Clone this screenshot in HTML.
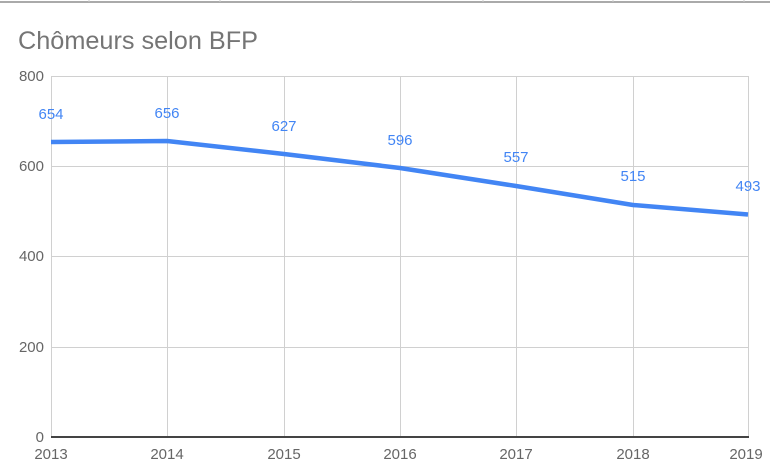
<!DOCTYPE html>
<html><head><meta charset="utf-8"><style>
body{margin:0;background:#fff;}
svg{display:block;font-family:"Liberation Sans",sans-serif;}
</style></head><body>
<svg width="770" height="466" viewBox="0 0 770 466">
<rect width="770" height="466" fill="#fff"/>
<line x1="0" y1="2" x2="770" y2="2" stroke="#aaa" stroke-width="2"/>
<g stroke="#ccc" stroke-width="1">
<line x1="89" y1="0" x2="89" y2="2"/><line x1="220" y1="0" x2="220" y2="2"/><line x1="351" y1="0" x2="351" y2="2"/><line x1="483" y1="0" x2="483" y2="2"/><line x1="613" y1="0" x2="613" y2="2"/><line x1="744" y1="0" x2="744" y2="2"/>
</g>
<text x="18" y="49" font-size="25" fill="#757575" textLength="240" lengthAdjust="spacingAndGlyphs">Chômeurs selon BFP</text>
<g stroke="#d0d0d0" stroke-width="1">
<line x1="51" y1="76.5" x2="749" y2="76.5"/>
<line x1="51" y1="166.5" x2="749" y2="166.5"/>
<line x1="51" y1="256.5" x2="749" y2="256.5"/>
<line x1="51" y1="347.5" x2="749" y2="347.5"/>
<line x1="51.5" y1="76" x2="51.5" y2="437"/>
<line x1="167.5" y1="76" x2="167.5" y2="437"/>
<line x1="284.5" y1="76" x2="284.5" y2="437"/>
<line x1="400.5" y1="76" x2="400.5" y2="437"/>
<line x1="516.5" y1="76" x2="516.5" y2="437"/>
<line x1="633.5" y1="76" x2="633.5" y2="437"/>
<line x1="748.5" y1="76" x2="748.5" y2="437"/>
</g>
<line x1="51" y1="437" x2="749" y2="437" stroke="#444" stroke-width="2"/>
<g font-size="15" fill="#666" text-anchor="end">
<text x="44" y="81">800</text><text x="44" y="171">600</text><text x="44" y="261">400</text><text x="44" y="352">200</text><text x="44" y="442">0</text>
</g>
<g font-size="15" fill="#666" text-anchor="middle">
<text x="51" y="459">2013</text><text x="167" y="459">2014</text><text x="284" y="459">2015</text><text x="400" y="459">2016</text><text x="516" y="459">2017</text><text x="633" y="459">2018</text><text x="746" y="459">2019</text>
</g>
<polyline points="51,142 167,141 284,154 400,168 516,186 633,205 748,214.5" fill="none" stroke="#4285f4" stroke-width="4.5" stroke-linejoin="round"/>
<g font-size="15" fill="#4285f4" text-anchor="middle">
<text x="51" y="119">654</text><text x="167" y="118">656</text><text x="284" y="131">627</text><text x="400" y="145">596</text><text x="516" y="162">557</text><text x="633" y="181">515</text><text x="748" y="191">493</text>
</g>
</svg>
</body></html>
